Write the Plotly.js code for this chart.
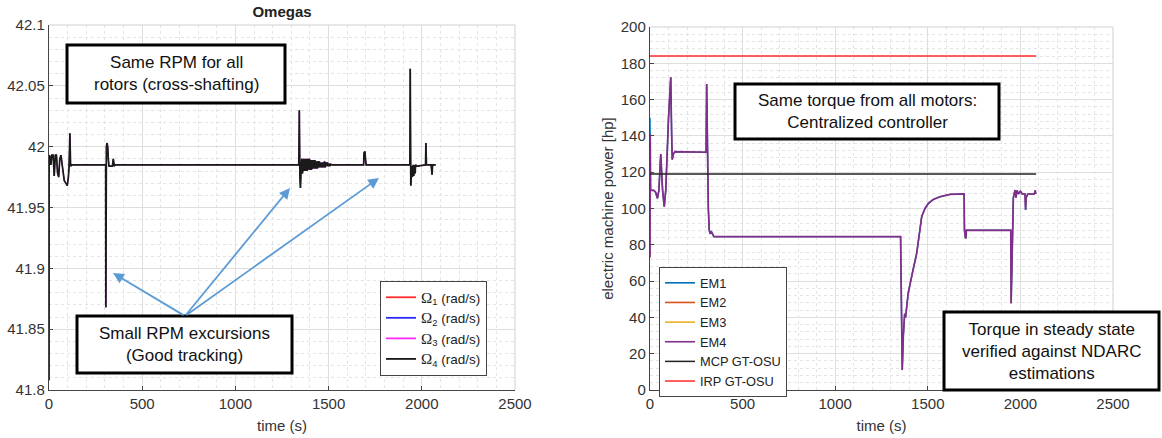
<!DOCTYPE html>
<html>
<head>
<meta charset="utf-8">
<script src="https://cdn.plot.ly/plotly-3.0.1.min.js"></script>
<style>html,body{margin:0;padding:0;background:#fff;}#chart{width:1162px;height:438px;}</style>
</head>
<body>
<div id="chart"></div>
<script>
// ---------- Left chart: rotor speeds (rad/s), identical for all rotors ----------
const omegaTime = [0, 0.5, 5, 10, 15, 22, 28, 34, 40, 46, 52, 58, 64, 70, 76, 82, 90, 98, 104, 108, 112, 116, 122,
  300, 304, 305, 306, 308, 311, 315, 318, 322, 340, 345, 350, 355,
  1340, 1343, 1346, 1349, 1352, 1356, 1360,
  1362, 1364, 1366, 1368, 1370, 1372, 1374, 1376, 1378, 1380, 1382, 1384, 1386, 1388, 1390, 1392, 1394, 1396, 1398, 1400,
  1402, 1404, 1406, 1408, 1410, 1412, 1414, 1416, 1418, 1420, 1422, 1424, 1426, 1428, 1430, 1432, 1434, 1436, 1438, 1440,
  1442, 1444, 1446, 1448, 1450, 1452, 1454, 1456, 1458, 1460, 1462, 1464, 1466, 1468, 1470, 1474, 1478, 1482, 1486, 1490,
  1494, 1498, 1502, 1506, 1510, 1515,
  1688, 1690, 1695, 1698, 1701,
  1936, 1938, 1941, 1944, 1947, 1950, 1953, 1957, 1960, 1964, 1967, 1975, 2020, 2022, 2025, 2050, 2055, 2058, 2075];
const omegaValue = [41.808, 41.993, 41.992, 41.985, 41.993, 41.993, 41.976, 41.993, 41.993, 41.978, 41.975, 41.990, 41.993, 41.985, 41.975, 41.972, 41.970, 41.968, 41.975, 41.985, 42.011, 41.984, 41.985,
  41.985, 41.985, 41.868, 41.985, 42.000, 42.003, 42.000, 41.990, 41.984, 41.984, 41.990, 41.984, 41.985,
  41.985, 42.030, 41.975, 41.966, 41.980, 41.990, 41.978,
  41.990, 41.980, 41.990, 41.980, 41.990, 41.980, 41.990, 41.980, 41.990, 41.980, 41.990, 41.980, 41.990, 41.981, 41.990, 41.981, 41.990, 41.981, 41.990, 41.981,
  41.989, 41.981, 41.989, 41.981, 41.989, 41.981, 41.989, 41.982, 41.989, 41.982, 41.989, 41.982, 41.989, 41.982, 41.988, 41.982, 41.988, 41.982, 41.988, 41.982,
  41.988, 41.983, 41.988, 41.983, 41.988, 41.983, 41.987, 41.983, 41.987, 41.983, 41.987, 41.983, 41.987, 41.983, 41.987, 41.983, 41.988, 41.983, 41.987, 41.984,
  41.987, 41.984, 41.986, 41.984, 41.986, 41.985,
  41.985, 41.995, 41.996, 41.990, 41.985,
  41.985, 42.064, 41.968, 41.980, 41.984, 41.975, 41.985, 41.976, 41.985, 41.978, 41.985, 41.984, 41.985, 42.003, 41.985, 41.985, 41.977, 41.985, 41.985];
const OMEGA = '<span style="font-family:Liberation Serif, Times New Roman, serif;font-size:15px">Ω</span>';
const omegaNames = [OMEGA + "<sub>1</sub> (rad/s)", OMEGA + "<sub>2</sub> (rad/s)", OMEGA + "<sub>3</sub> (rad/s)", OMEGA + "<sub>4</sub> (rad/s)"];
const omegaColors = ["#ff2a2a", "#2a2aff", "#ff2aff", "#1a1a1a"];

// ---------- Right chart: electric machine power (hp) ----------
const emTime = [0, 1, 3, 20, 30, 40, 48, 58, 68, 77, 85, 100, 112, 117, 120, 126, 135, 300, 303, 306, 309, 315, 320, 325, 330, 336, 345,
  1353, 1362, 1368, 1371, 1375, 1380, 1394, 1420, 1440, 1467, 1485, 1503, 1530, 1566, 1620, 1696, 1698, 1703, 1706, 1708,
  1948, 1950, 1956, 1962, 1971, 1976, 1982, 1990, 2000, 2010, 2025, 2028, 2031, 2040, 2075, 2080, 2083];
const emTail = [141, 110, 110, 109, 105.6, 110, 130, 110, 101, 110, 150, 172.3, 140, 127, 130, 131.3, 131, 131, 168.6, 135, 100, 88, 86, 87.5, 86, 84.5,
  84.5, 11, 30, 38.5, 42, 40, 53.3, 66, 75.3, 95.5, 100, 102.8, 105, 106.5, 107.8, 108, 88, 84, 83.6, 88,
  88, 47.8, 90, 106, 110.2, 106, 110, 108, 109.5, 108, 108, 99.2, 106, 108, 108, 110, 108];
const emStart = [150, 73, 73, 73];           // first sample of EM1..EM4
const emNames = ["EM1", "EM2", "EM3", "EM4"];
const emColors = ["#0072BD", "#D95319", "#EDB120", "#7E2F8E"];
const refTime = [0, 2085];
const mcpPower = 119;   // MCP GT-OSU
const irpPower = 184;   // IRP GT-OSU

const W = 1162, H = 438;
const px = x => x / W, py = y => 1 - y / H;
const FONT = "Liberation Sans, Arial, sans-serif";

const traces = [];
// legend entries (keep swatch width constant even where hidden lines are drawn thin)
omegaNames.forEach((n, i) => traces.push({
  x: [null], y: [null], type: "scatter", mode: "lines", name: n, legendgroup: "o" + i,
  line: {color: omegaColors[i], width: 1.8}, xaxis: "x", yaxis: "y", legend: "legend"
}));
emNames.forEach((n, i) => traces.push({
  x: [null], y: [null], type: "scatter", mode: "lines", name: n, legendgroup: "e" + i,
  line: {color: emColors[i], width: 1.6}, xaxis: "x2", yaxis: "y2", legend: "legend2"
}));
// data lines: rotors 1-3 and EM1-3 lie underneath rotor 4 / EM4
omegaNames.forEach((n, i) => traces.push({
  x: omegaTime, y: omegaValue, type: "scatter", mode: "lines", name: n, showlegend: false, legendgroup: "o" + i,
  line: {color: omegaColors[i], width: i === 3 ? 1.7 : 0.5}, xaxis: "x", yaxis: "y", legend: "legend"
}));
emNames.forEach((n, i) => traces.push({
  x: emTime, y: [emStart[i]].concat(emTail), type: "scatter", mode: "lines", name: n, showlegend: false, legendgroup: "e" + i,
  line: {color: emColors[i], width: i === 3 ? 1.7 : (i === 0 ? 1.4 : 0.5)}, xaxis: "x2", yaxis: "y2", legend: "legend2"
}));
traces.push({x: refTime, y: refTime.map(() => mcpPower), type: "scatter", mode: "lines", name: "MCP GT-OSU",
  line: {color: "#222222", width: 1.5}, xaxis: "x2", yaxis: "y2", legend: "legend2"});
traces.push({x: refTime, y: refTime.map(() => irpPower), type: "scatter", mode: "lines", name: "IRP GT-OSU",
  line: {color: "#ff2a2a", width: 1.5}, xaxis: "x2", yaxis: "y2", legend: "legend2"});

const axCommon = {
  showline: true, linecolor: "#444", linewidth: 1.2, mirror: false,
  ticks: "inside", ticklen: 4, tickcolor: "#444",
  showgrid: true, gridcolor: "#dedede", gridwidth: 1, zeroline: false,
  tickfont: {size: 15, color: "#333", family: FONT},
};
const minorX = {dtick: 100, showgrid: true, gridcolor: "#e4e4e4", griddash: "dot", gridwidth: 1, ticks: ""};

const layout = {
  width: W, height: H, margin: {l: 0, r: 0, t: 0, b: 0},
  paper_bgcolor: "#fff", plot_bgcolor: "#fff",
  font: {family: FONT, color: "#333"},
  title: {text: "<b>Omegas</b>", x: px(282), xanchor: "center", y: py(12), yanchor: "middle",
    font: {size: 15, color: "#222", family: FONT}},
  xaxis: Object.assign({}, axCommon, {domain: [px(49), px(515)], range: [0, 2500], dtick: 500, tick0: 0,
    minor: minorX, title: {text: "time (s)", font: {size: 15, color: "#333"}, standoff: 9}, anchor: "y"}),
  yaxis: Object.assign({}, axCommon, {domain: [py(390), py(25)], range: [41.8, 42.1], dtick: 0.05, tick0: 41.8,
    minor: {dtick: 0.01, showgrid: true, gridcolor: "#e4e4e4", griddash: "dot", ticks: ""}, anchor: "x"}),
  xaxis2: Object.assign({}, axCommon, {domain: [px(650), px(1113)], range: [0, 2500], dtick: 500, tick0: 0,
    minor: minorX, title: {text: "time (s)", font: {size: 15, color: "#333"}, standoff: 9}, anchor: "y2"}),
  yaxis2: Object.assign({}, axCommon, {domain: [py(390), py(27)], range: [0, 200], dtick: 20, tick0: 0,
    minor: {dtick: 4, showgrid: true, gridcolor: "#e4e4e4", griddash: "dot", ticks: ""}, anchor: "x2",
    title: {text: "electric machine power [hp]", font: {size: 15, color: "#333"}, standoff: 3}}),
  legend: {x: px(380), y: py(281), xanchor: "left", yanchor: "top", bgcolor: "#fff", bordercolor: "#444", borderwidth: 1,
    font: {size: 13.5, color: "#222", family: FONT}, traceorder: "normal"},
  legend2: {x: px(659), y: py(267), xanchor: "left", yanchor: "top", bgcolor: "#fff", bordercolor: "#444", borderwidth: 1,
    font: {size: 12.8, color: "#222", family: FONT}, traceorder: "normal"},
  shapes: [
    // light top/right frames
    {type: "line", xref: "x domain", yref: "y domain", x0: 0, x1: 1, y0: 1, y1: 1, line: {color: "#d0d0d0", width: 1}},
    {type: "line", xref: "x domain", yref: "y domain", x0: 1, x1: 1, y0: 0, y1: 1, line: {color: "#d0d0d0", width: 1}},
    {type: "line", xref: "x2 domain", yref: "y2 domain", x0: 0, x1: 1, y0: 1, y1: 1, line: {color: "#d0d0d0", width: 1}},
    {type: "line", xref: "x2 domain", yref: "y2 domain", x0: 1, x1: 1, y0: 0, y1: 1, line: {color: "#d0d0d0", width: 1}},
    // text boxes
    {type: "rect", xref: "paper", yref: "paper", x0: px(67), x1: px(285), y0: py(103), y1: py(45), fillcolor: "#fff", line: {color: "#000", width: 3}},
    {type: "rect", xref: "paper", yref: "paper", x0: px(77), x1: px(292), y0: py(373), y1: py(316), fillcolor: "#fff", line: {color: "#000", width: 3}},
    {type: "rect", xref: "paper", yref: "paper", x0: px(735), x1: px(999), y0: py(139), y1: py(84), fillcolor: "#fff", line: {color: "#000", width: 3}},
    {type: "rect", xref: "paper", yref: "paper", x0: px(944), x1: px(1159), y0: py(390), y1: py(312), fillcolor: "#fff", line: {color: "#000", width: 3}}
  ],
  annotations: []
};

function box(text, cx, cy) {
  layout.annotations.push({xref: "paper", yref: "paper", x: px(cx), y: py(cy), xanchor: "center", yanchor: "middle",
    text: text, showarrow: false, align: "center", font: {size: 17, color: "#111", family: FONT}});
}
box("Same RPM for all<br>rotors (cross-shafting)", 176, 74);
box("Small RPM excursions<br>(Good tracking)", 184.5, 344.5);
box("Same torque from all motors:<br>Centralized controller", 867, 111.5);
box("Torque in steady state<br>verified against NDARC<br>estimations", 1051.5, 351);

function arrow(tx, ty, hx, hy) {
  layout.annotations.push({xref: "paper", yref: "paper", x: px(hx), y: py(hy), ax: tx - hx, ay: ty - hy,
    axref: "pixel", ayref: "pixel", text: "", showarrow: true, arrowhead: 2, arrowsize: 1.2, arrowwidth: 1.8,
    arrowcolor: "#5B9BD5"});
}
arrow(185, 316, 113, 273);
arrow(185, 316, 290, 188);
arrow(185, 316, 379, 178);

Plotly.newPlot("chart", traces, layout, {displayModeBar: false, staticPlot: true});
</script>
</body>
</html>
